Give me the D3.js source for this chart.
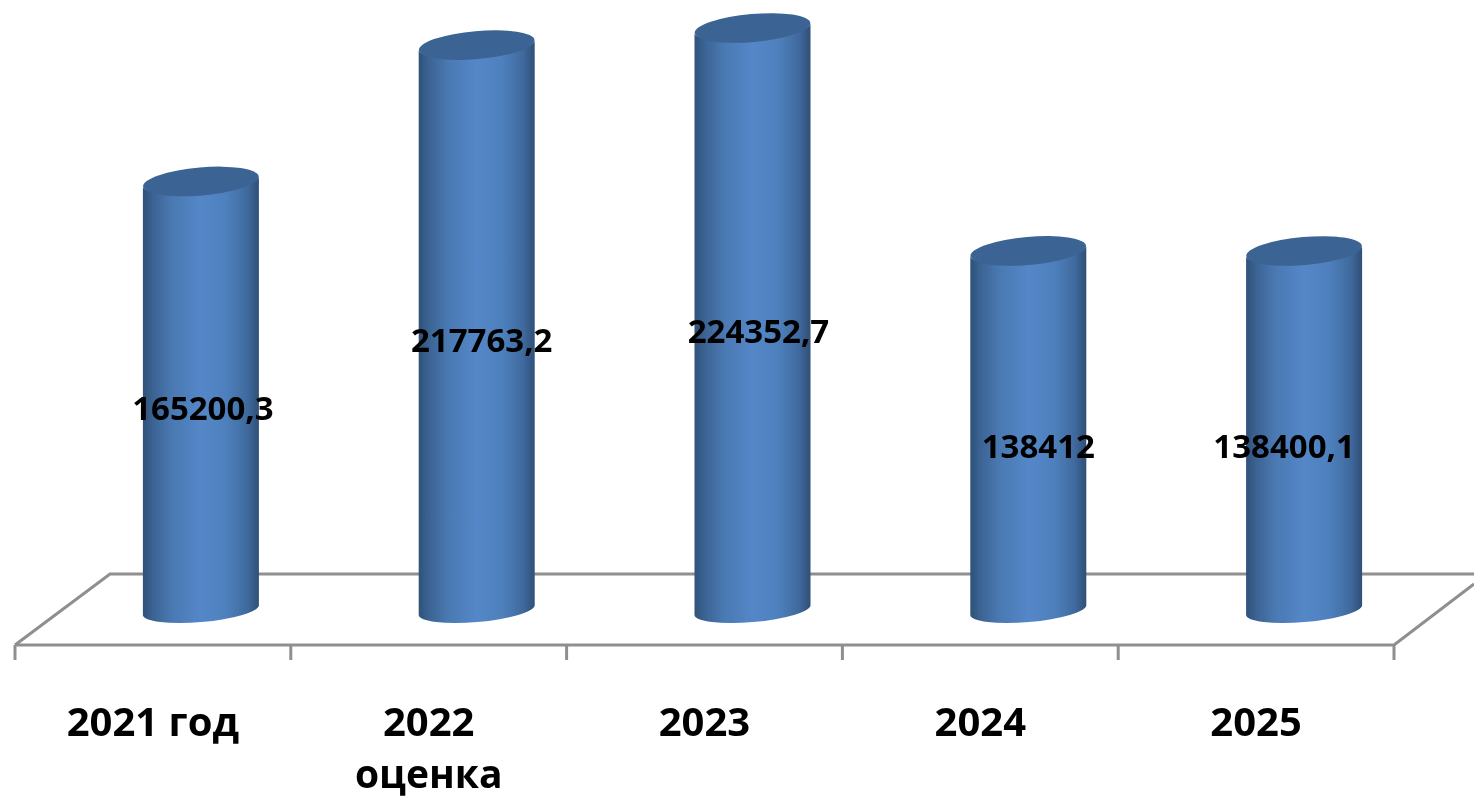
<!DOCTYPE html>
<html><head><meta charset="utf-8">
<script src="https://cdn.jsdelivr.net/npm/d3@7"></script>
<style>html,body{margin:0;padding:0;background:#fff;overflow:hidden}svg{display:block}</style>
</head><body><svg id="c" width="1474" height="800"></svg>
<script>
const categories = ["2021 год", "2022", "2023", "2024", "2025"];
const categorySubLabels = ["", "оценка", "", "", ""];
const values = [165200.3, 217763.2, 224352.7, 138412, 138400.1];
const valueLabels = ["165200,3", "217763,2", "224352,7", "138412", "138400,1"];

const svg = d3.select("#c");
const FONT = "'Open Sans', 'Noto Sans', sans-serif";
const x = d3.scaleBand().domain(categories).range([15, 1394]);
const y = d3.scaleLinear().domain([0, 224352.7]).range([610, 28]);
const depthX = 48, rx = 58, ry = 12, tilt = -5, skew = 5;
const labelNudge = [{dx:2,dy:13},{dx:5,dy:13},{dx:6,dy:13},{dx:10,dy:17},{dx:-20,dy:17}];

const defs = svg.append("defs");
const g = defs.append("linearGradient").attr("id", "body").attr("x1", 0).attr("x2", 1).attr("y1", 0).attr("y2", 0);
[[0,"#2f5178"],[0.08,"#3a6291"],[0.25,"#4a79b2"],[0.5,"#5487c8"],[0.72,"#4e80bc"],[0.9,"#3f6a9e"],[1,"#2f4f76"]]
  .forEach(([o,c]) => g.append("stop").attr("offset", o).attr("stop-color", c));
defs.append("filter").attr("id","soft").attr("x","-5%").attr("y","-5%").attr("width","110%").attr("height","110%")
  .append("feGaussianBlur").attr("stdDeviation",0.6);

const root = svg.append("g").attr("filter","url(#soft)");

// floor
const floor = root.append("g").attr("fill","none").attr("stroke","#8f8f8f").attr("stroke-width",3);
floor.append("path").attr("d", d3.line()([[15,645],[110,574],[1474,574]]));
floor.append("path").attr("d", d3.line()([[15,645],[1394,645],[1474,584]]));
const edges = [...categories.map(c => x(c)), x.range()[1]];
floor.selectAll("line").data(edges).join("line")
  .attr("x1", d => d).attr("x2", d => d).attr("y1", 645).attr("y2", 660);

// cylinders
const bars = root.selectAll("g.bar").data(categories.map((c,i) => ({c, v: values[i], i}))).join("g").attr("class","bar");
bars.append("path").attr("fill","url(#body)").attr("d", d => {
  const cx = x(d.c) + x.bandwidth()/2 + depthX, t = y(d.v), b = y(0);
  return `M${cx-rx},${t+skew}L${cx-rx},${b+skew}A${rx},${ry} ${tilt} 0 0 ${cx+rx},${b-skew}L${cx+rx},${t-skew}A${rx},${ry} ${tilt} 0 1 ${cx-rx},${t+skew}Z`;
});
bars.append("ellipse").attr("fill","#3a6394")
  .attr("rx", rx).attr("ry", ry+2)
  .attr("transform", d => `translate(${x(d.c)+x.bandwidth()/2+depthX},${y(d.v)}) rotate(${tilt})`);

// value labels
bars.append("text").text((d) => valueLabels[d.i])
  .attr("x", d => x(d.c)+x.bandwidth()/2+depthX+labelNudge[d.i].dx)
  .attr("y", d => (y(d.v)+y(0))/2+labelNudge[d.i].dy+11)
  .attr("text-anchor","middle").attr("font-family",FONT).attr("font-weight",700).attr("font-size",33).attr("fill","#000");

// category labels
const cat = root.append("g").attr("text-anchor","middle").attr("font-family",FONT).attr("font-weight",700).attr("font-size",40).attr("fill","#000");
cat.selectAll("text.a").data(categories).join("text").attr("class","a")
  .attr("x", d => x(d)+x.bandwidth()/2).attr("y",736).text(d => d);
cat.selectAll("text.b").data(categorySubLabels).join("text").attr("class","b")
  .attr("font-size",39)
  .attr("x", (d,i) => x(categories[i])+x.bandwidth()/2).attr("y",788).text(d => d);
</script></body></html>
